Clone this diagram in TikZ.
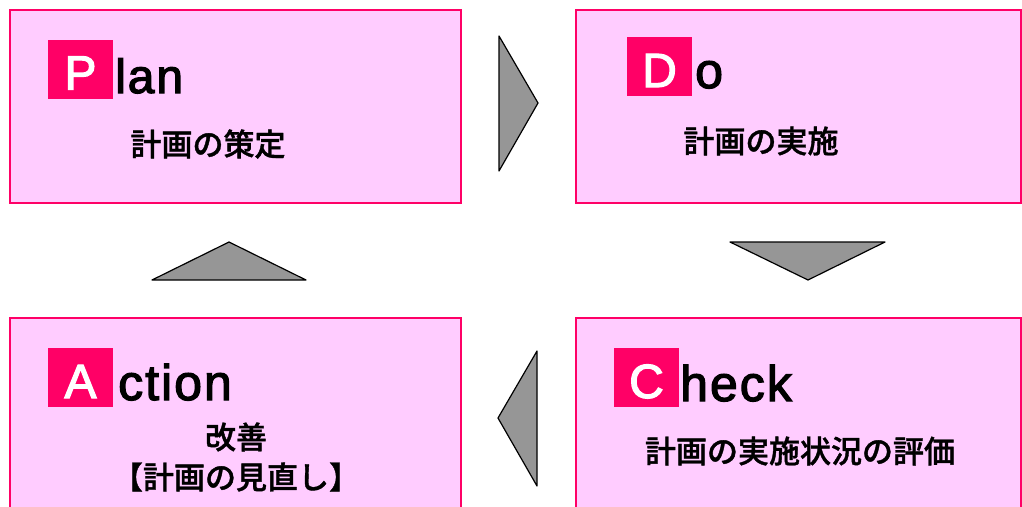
\documentclass[tikz,border=0pt]{standalone}
\usepackage{fontspec}
\setmainfont{Liberation Sans}
\newfontfamily\latinword{Liberation Sans}[LetterSpace=4, FakeBold=2.5]
\newfontfamily\jp{Noto Sans CJK JP}[BoldFont={Noto Sans CJK JP Medium}, BoldFeatures={FakeBold=1.2}]
\definecolor{boxfill}{HTML}{FFCCFF}
\definecolor{boxline}{HTML}{FF0066}
\definecolor{arrowgray}{HTML}{969696}
\begin{document}
\begin{tikzpicture}[x=1pt,y=-1pt,
  pdcabox/.style={draw=boxline, fill=boxfill, line width=1.6pt, minimum height=193pt, inner sep=0pt},
  tagbox/.style={fill=boxline, text=white, inner sep=0pt, minimum height=59pt, minimum width=65pt, text height=41pt, text depth=0pt, font=\latinword\fontsize{48}{50}\selectfont},
  word/.style={anchor=base west, inner sep=0pt},
  jptext/.style={inner sep=0pt, align=center, font=\jp\bfseries\fontsize{31}{40}\selectfont},
  turn/.style={draw=black, fill=arrowgray, line width=1.2pt, line join=round}]
\useasboundingbox (0,0) rectangle (1022,506);
\begin{scope}
\clip (0,0) rectangle (1022,506);
% boxes
\node[pdcabox, minimum width=451pt] (plan) at (235.5,106.5) {};
\node[pdcabox, minimum width=445pt] (do) at (798.5,106.5) {};
\node[pdcabox, minimum width=451pt] (act) at (235.5,414.5) {};
\node[pdcabox, minimum width=445pt] (chk) at (798.5,414.5) {};
% tags
\node[tagbox] (tp) at (80.5,69) {P};
\node[tagbox] (td) at (659.5,66.5) {D};
\node[tagbox] (ta) at (80.5,377.5) {A};
\node[tagbox] (tc) at (646.5,377.5) {C};
% words
\node[word, font=\latinword\fontsize{48}{50}\selectfont] (wp) at (115,93) {lan};
\node[word, font=\latinword\fontsize{50}{50}\selectfont] (wd) at (695,88) {o};
\node[word, font=\latinword\fontsize{50}{50}\selectfont] (wa) at (118,400) {ction};
\node[word, font=\latinword\fontsize{50}{50}\selectfont] (wc) at (680,401) {heck};
% japanese
\node[jptext] (jp1) at (208,144) {計画の策定};
\node[jptext] (jp2) at (761,141) {計画の実施};
\node[jptext] (jp3) at (800,451) {計画の実施状況の評価};
\node[jptext] (jp4) at (236,437) {改善};
\node[jptext] (jp5) at (236,477) {【計画の見直し】};
\end{scope}
% turning arrows
\draw[turn] (499,36) -- (538,103) -- (499,171) -- cycle;
\draw[turn] (730,242) -- (885,242) -- (808,280) -- cycle;
\draw[turn] (537,351) -- (498,418) -- (537,486) -- cycle;
\draw[turn] (152,280) -- (306,280) -- (229,242) -- cycle;
\end{tikzpicture}
\end{document}
